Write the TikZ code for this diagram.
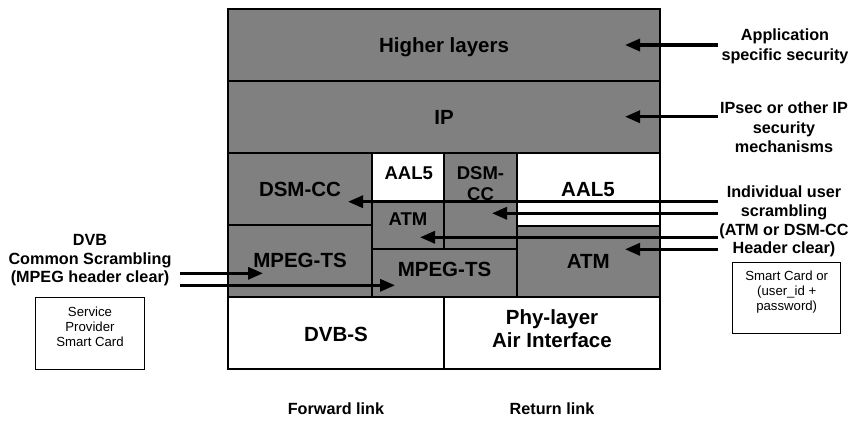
\documentclass[tikz,border=0pt]{standalone}
\usepackage{fontspec}
\setmainfont{Liberation Sans}
\usetikzlibrary{arrows.meta}
\definecolor{laygray}{HTML}{808080}
\newcommand{\hs}{\rule{0pt}{0.85em}}
\newcommand{\ds}{\rule[-0.85em]{0pt}{0.85em}}
\begin{document}
\begin{tikzpicture}[x=1pt,y=-1pt,
  lay/.style 2 args={draw, line width=1.6pt, inner sep=0pt, outer sep=0pt,
    minimum width=#1pt, minimum height=#2pt},
  grayf/.style={fill=laygray},
  whitef/.style={fill=white},
  thinbox/.style 2 args={draw, line width=0.9pt, inner sep=0pt,
    minimum width=#1pt, minimum height=#2pt},
  bigtxt/.style={font=\fontsize{20.5}{23}\bfseries\selectfont, inner sep=0pt, align=center},
  smalltxt/.style={font=\fontsize{18.5}{20.7}\bfseries\selectfont, inner sep=0pt, align=center},
  sidetxt/.style={font=\fontsize{16.2}{#1}\bfseries\selectfont, inner sep=0pt, align=center},
  cardtxt/.style={font=\fontsize{13.2}{#1}\selectfont, inner sep=0pt, align=center},
  arr/.style={line width=3.2pt, -{Triangle[length=15pt,width=12pt]}}
]
\useasboundingbox (0,0) rectangle (855,421);

% layer boxes
\node[lay={432}{72}, grayf] (higher) at (444,45) {};
\node[lay={432}{72}, grayf] (ip) at (444,117) {};
\node[lay={144}{72}, grayf] (dsml) at (300,189) {};
\node[lay={72}{48.7}, whitef] (aals) at (408,177.35) {};
\node[lay={73}{96}, grayf] (dsms) at (480.5,201) {};
\node[lay={143}{73}, whitef] (aalb) at (588.5,189.5) {};
\node[lay={72}{47.3}, grayf] (atms) at (408,225.35) {};
\node[lay={144}{72}, grayf] (mpl) at (300,261) {};
\node[lay={145}{48}, grayf] (mpm) at (444.5,273) {};
\node[lay={143}{71}, grayf] (atmb) at (588.5,261.5) {};
\node[lay={216}{72}, whitef] (dvbs) at (336,333) {};
\node[lay={216}{72}, whitef] (phy) at (552,333) {};

% layer labels
\node[bigtxt, anchor=base] (t-higher) at (444,52.3) {Higher layers};
\node[bigtxt, anchor=base] (t-ip) at (444,124.3) {IP};
\node[bigtxt, anchor=base] (t-dsml) at (300,196.7) {DSM-CC};
\node[smalltxt, anchor=base] (t-aals) at (408.7,179.3) {AAL5};
\node[smalltxt] (t-dsms) at (480.5,189.65) {\hs DSM-\\CC\ds};
\node[bigtxt, anchor=base] (t-aalb) at (588,196) {AAL5};
\node[smalltxt, anchor=base] (t-atms) at (408,225) {ATM};
\node[bigtxt, anchor=base] (t-mpl) at (300,267.7) {MPEG-TS};
\node[bigtxt, anchor=base] (t-mpm) at (444.5,276) {MPEG-TS};
\node[bigtxt, anchor=base] (t-atmb) at (588.3,268.3) {ATM};
\node[bigtxt, anchor=base] (t-dvbs) at (336,341) {DVB-S};
\node[bigtxt] (t-phy) at (552,335.8) {\hs Phy-layer\\Air Interface\ds};

% bottom labels
\node[sidetxt=19, anchor=base] (fwd) at (336,414) {Forward link};
\node[sidetxt=19, anchor=base] (ret) at (552,414) {Return link};

% side labels
\node[sidetxt=20] (app) at (785,50.7) {\hs Application\\specific security\ds};
\node[sidetxt=19.5] (ipsec) at (784,133.2) {\hs IPsec or other IP\\security\\mechanisms\ds};
\node[sidetxt=18.67] (indiv) at (784,225.7) {\hs Individual user\\scrambling\\(ATM or DSM-CC\\Header clear)\ds};
\node[sidetxt=18.5] (dvbl) at (90,264.2) {\hs DVB\\Common Scrambling\\(MPEG header clear)\ds};

% card boxes
\node[thinbox={108}{71}, fill=white] (smartbox) at (786,297.5) {};
\node[cardtxt=15] (smart) at (786.7,295) {\hs Smart Card or\\(user\_id +\\password)\ds};
\node[thinbox={109}{72}, fill=white] (spbox) at (89.5,333) {};
\node[cardtxt=15.3] (spsc) at (90,331.3) {\hs Service\\Provider\\Smart Card\ds};

% arrow end points
\coordinate (s-app) at (718,45);   \coordinate (e-app) at (625,45);
\coordinate (s-ip) at (718,116.7); \coordinate (e-ip) at (625,116.7);
\coordinate (s-r1) at (718,201.7); \coordinate (e-r1) at (348,201.7);
\coordinate (s-r2) at (718,213.3); \coordinate (e-r2) at (492,213.3);
\coordinate (s-r3) at (718,237.3); \coordinate (e-r3) at (420,237.3);
\coordinate (s-r4) at (718,249.3); \coordinate (e-r4) at (625,249.3);
\coordinate (s-l1) at (180,273.3); \coordinate (e-l1) at (263,273.3);
\coordinate (s-l2) at (180,285.3); \coordinate (e-l2) at (395,285.3);

% arrows
\draw[arr] (s-app) -- (e-app);
\draw[arr] (s-ip) -- (e-ip);
\draw[arr] (s-r1) -- (e-r1);
\draw[arr] (s-r2) -- (e-r2);
\draw[arr] (s-r3) -- (e-r3);
\draw[arr] (s-r4) -- (e-r4);
\draw[arr] (s-l1) -- (e-l1);
\draw[arr] (s-l2) -- (e-l2);
\end{tikzpicture}
\end{document}
